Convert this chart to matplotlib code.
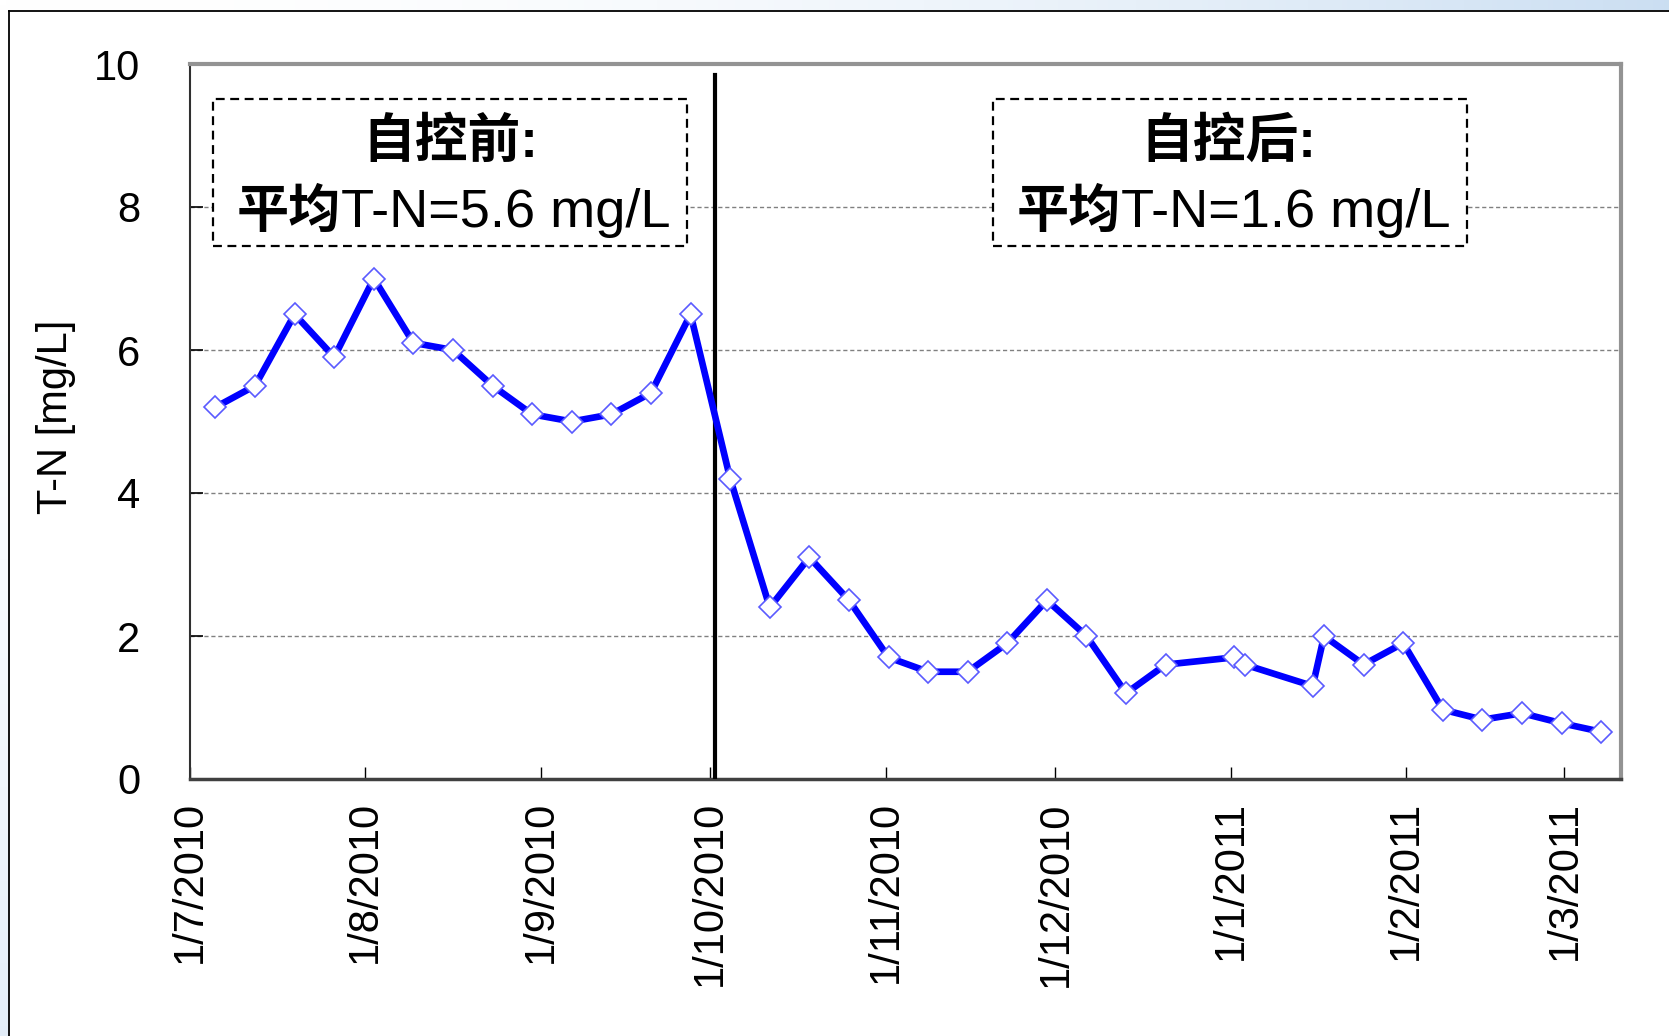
import numpy as np
import matplotlib.pyplot as plt
from matplotlib.patches import Rectangle
from matplotlib.lines import Line2D
from datetime import datetime, timedelta

plt.rcParams['font.family'] = ['Liberation Sans', 'Noto Sans CJK SC', 'DejaVu Sans']

# weekly samples, dd/m/yyyy axis
dates = ["2010-07-05", "2010-07-12", "2010-07-19", "2010-07-26", "2010-08-02",
         "2010-08-09", "2010-08-16", "2010-08-23", "2010-08-30", "2010-09-06",
         "2010-09-13", "2010-09-20", "2010-09-27", "2010-10-04", "2010-10-11",
         "2010-10-18", "2010-10-25", "2010-11-01", "2010-11-08", "2010-11-15",
         "2010-11-22", "2010-11-29", "2010-12-06", "2010-12-13", "2010-12-20",
         "2011-01-01", "2011-01-03", "2011-01-15", "2011-01-17", "2011-01-24",
         "2011-01-31", "2011-02-07", "2011-02-14", "2011-02-21", "2011-02-28",
         "2011-03-07"]
tn = [5.2, 5.5, 6.5, 5.9, 7.0, 6.1, 6.0, 5.5, 5.1, 5.0, 5.1, 5.4, 6.5,
      4.2, 2.4, 3.1, 2.5, 1.7, 1.5, 1.5, 1.9, 2.5, 2.0, 1.2, 1.6,
      1.7, 1.6, 1.3, 2.0, 1.6, 1.9, 0.97, 0.83, 0.92, 0.78, 0.66]

month_ticks = ["2010-07-01", "2010-08-01", "2010-09-01", "2010-10-01", "2010-11-01",
               "2010-12-01", "2011-01-01", "2011-02-01", "2011-03-01"]
month_labels = ["1/7/2010", "1/8/2010", "1/9/2010", "1/10/2010", "1/11/2010",
                "1/12/2010", "1/1/2011", "1/2/2011", "1/3/2011"]
y_ticks = [0, 2, 4, 6, 8, 10]

switch_date = datetime(2010, 10, 1, 18)
before_text = ("自控前:", "平均", "T-N=5.6 mg/L")
after_text = ("自控后:", "平均", "T-N=1.6 mg/L")

to_dt = lambda s: datetime.strptime(s, "%Y-%m-%d")
# excel puts the day's point in the middle of the day
x = [to_dt(d) + timedelta(hours=12) for d in dates]

W, H = 1669, 1036
fig = plt.figure(figsize=(W / 100, H / 100), dpi=100)

# slide background: soft blue gradient, white panel with black frame
bg = fig.add_axes([0, 0, 1, 1])
bg.axis('off')
gx, gy = np.meshgrid(np.linspace(0, 1, 300), np.linspace(0, 1, 200))
t = np.clip(0.85 * gx ** 2 + 0.45 * gy ** 2, 0, 1)[..., None]
blue = np.array([0.76, 0.85, 0.94])
bg.imshow(1 - t * (1 - blue), extent=[0, 1, 0, 1], aspect='auto', origin='upper')
bg.set_xlim(0, 1)
bg.set_ylim(0, 1)
fx0, fy1 = 8.5 / W, 1 - 10.5 / H
bg.add_patch(Rectangle((fx0, -0.1), 1.2, fy1 + 0.1, facecolor='white', edgecolor='none'))
bg.add_line(Line2D([fx0, 1.01], [fy1, fy1], color='black', lw=1.3))
bg.add_line(Line2D([fx0, fx0], [-0.01, fy1], color='black', lw=1.3))

ax = fig.add_axes([190 / W, 1 - 779 / H, 1431 / W, 715 / H])
ax.plot(x, tn, color='#0000ff', lw=4.8, marker='D', ms=11.5,
        mfc='white', mec='#5a5aff', mew=1.2, zorder=5)
ax.plot([switch_date, switch_date], [0, 9.84], color='black', lw=3, zorder=4)

ax.set_xlim(datetime(2010, 7, 1), datetime(2011, 3, 11))
ax.set_ylim(0, 10)
ax.set_xticks([to_dt(d) for d in month_ticks])
ax.set_xticklabels(month_labels, rotation=90)
ax.set_yticks(y_ticks)
ax.tick_params(axis='x', direction='in', length=9, width=1, pad=16, labelsize=30, colors='black')
ax.tick_params(axis='y', direction='in', length=9, width=1.2, pad=36, labelsize=30)
ax.yaxis.grid(True, color='#808080', ls=(0, (3, 2)), lw=1)
ax.set_axisbelow(True)

ax.spines['left'].set_color('#303030')
ax.spines['left'].set_linewidth(1.5)
ax.spines['bottom'].set_color('#404040')
ax.spines['bottom'].set_linewidth(2.5)
for s in ('top', 'right'):
    ax.spines[s].set_color('#939393')
    ax.spines[s].set_linewidth(3)

fig.text(56 / W, 1 - 417 / H, "T-N [mg/L]", rotation=90, ha='center', va='center', fontsize=30)

# annotation boxes
for (x0, x1, cx, lx), (head, cjk, latin) in [((0.0159, 0.3473, 0.1817, 0.0326), before_text),
                                             ((0.5610, 0.8924, 0.7254, 0.5777), after_text)]:
    ax.add_patch(Rectangle((x0, 0.7455), x1 - x0, 0.9506 - 0.7455, transform=ax.transAxes,
                           facecolor='white', edgecolor='black', lw=1.6,
                           ls=(0, (4, 2.5)), zorder=3))
    ax.text(cx, 0.8895, head, transform=ax.transAxes, ha='center', va='center',
            fontsize=38, fontweight='bold', zorder=6)
    t1 = ax.text(lx, 0.7725, cjk, transform=ax.transAxes, ha='left', va='baseline',
                 fontsize=37.5, fontweight='bold', family='Noto Sans CJK SC', zorder=6)
    ax.annotate(latin, xy=(1, 0.7725), xycoords=(t1, ax.transAxes), ha='left',
                va='baseline', fontsize=39, zorder=6)

fig.savefig("out.png", dpi=100)
